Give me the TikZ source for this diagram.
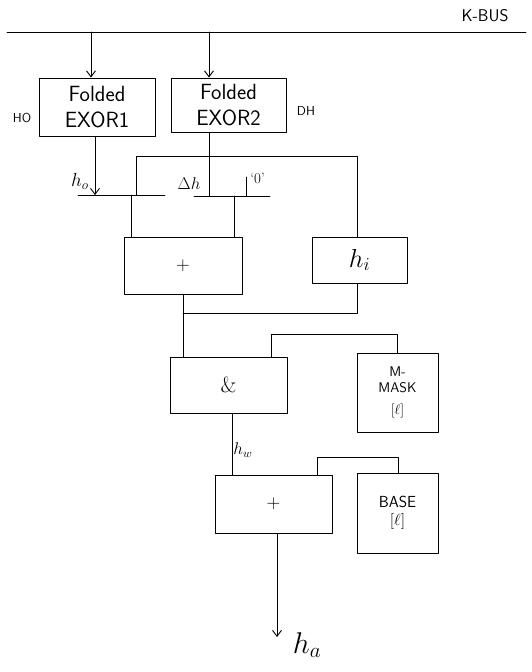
\RequirePackage{fix-cm}
\documentclass[tikz,border=0pt]{standalone}
\usepackage{fontspec}
\usetikzlibrary{arrows.meta}
\tikzset{
  blk/.style={draw, rectangle, inner sep=0pt, align=center},
  lbl/.style={inner sep=1pt},
}
\newcommand{\fsz}[1]{\fontsize{#1}{1.15\dimexpr#1pt\relax}\selectfont}
\begin{document}
\begin{tikzpicture}[x=1pt, y=-1pt, line width=0.9pt, line join=round, line cap=round, >={Straight Barb[length=6pt,width=9pt]}, font=\sffamily]
				\useasboundingbox (0,0) rectangle (531,672);
				% ==========================================
				% bus
				\coordinate (busL) at (7,32);
				\coordinate (busR) at (526,32);
				\draw (busL) -- (busR);
				\node[lbl, font=\sffamily\fsz{17}] (kbus) at (485,16) {K-BUS};
				% ==========================================
				% folded exor blocks
				\node[blk, minimum width=116pt, minimum height=58pt, font=\sffamily\fsz{22}] (exor1) at (97,107) {Folded\\EXOR1};
				\node[blk, minimum width=115pt, minimum height=54pt, font=\sffamily\fsz{22}] (exor2) at (228.5,105) {Folded\\EXOR2};
				\node[lbl, font=\sffamily\fsz{13}] (honame) at (22,118) {HO};
				\node[lbl, font=\sffamily\fsz{13}] (dhname) at (306,111) {DH};
				\draw[->] (busL -| 91,0) -- (exor1.north -| 91,0);
				\draw[->] (busL -| 209,0) -- (exor2.north -| 209,0);
				% ==========================================
				% input selectors
				\coordinate (barAl) at (78,195);
				\coordinate (barAr) at (165,195);
				\coordinate (barBl) at (194,196);
				\coordinate (barBr) at (270,196);
				\draw (barAl) -- (barAr);
				\draw (barBl) -- (barBr);
				\draw[->] (exor1.south -| 95,0) -- (barAl -| 95,0);
				\node[lbl, anchor=east, font=\fsz{19}] (holbl) at (90,181) {$h_o$};
				\draw (exor2.south -| 209,0) -- (barBl -| 209,0);
				\node[lbl, font=\fsz{17}] (dhlbl) at (189,184) {$\Delta h$};
				\draw (246,177) -- (barBl -| 246,0);
				\node[lbl, font=\fsz{15}, right] (zerolbl) at (249,178) {`0'};
				% ==========================================
				% adder and h_i register
				\node[blk, minimum width=118pt, minimum height=57pt, font=\fsz{19}] (add1) at (183,265.5) {$+$};
				\node[blk, minimum width=95pt, minimum height=46pt, font=\fsz{26}] (hi) at (359.5,260) {$h_i$};
				\draw (barAl -| 131,0) -- (add1.north -| 131,0);
				\draw (barBl -| 234,0) -- (add1.north -| 234,0);
				\draw (barAl -| 136,0) -- (136,156) -- (357,156) -- (hi.north -| 357,0);
				\draw (hi.south -| 357,0) -- (357,313) -- (183,313);
				% ==========================================
				% masking
				\node[blk, minimum width=117pt, minimum height=56pt, font=\fsz{22}] (and) at (228.5,385) {\&};
				\node[blk, minimum width=81pt, minimum height=79pt, font=\sffamily\fsz{14}] (mmask) at (397.5,392.5) {M-\\MASK\\[6pt]$[\ell]$};
				\draw (add1.south -| 183,0) -- (and.north -| 183,0);
				\draw (and.north -| 271,0) -- (271,334) -- (397,334) -- (mmask.north -| 397,0);
				% ==========================================
				% base adder
				\node[blk, minimum width=117pt, minimum height=58pt, font=\fsz{19}] (add2) at (273.5,504) {$+$};
				\node[blk, minimum width=81pt, minimum height=80pt, font=\sffamily\fsz{16}] (base) at (397.5,513) {BASE\\$[\ell]$};
				\draw (and.south -| 232,0) -- (add2.north -| 232,0) node[lbl, pos=0.6, right, font=\fsz{17}] (hwlbl) {$h_w$};
				\draw (add2.north -| 317,0) -- (317,457) -- (398,457) -- (base.north -| 398,0);
				\coordinate (haend) at (277,637);
				\draw[->] (add2.south -| haend) -- (haend);
				\node[lbl, font=\fsz{30}] (halbl) at (307,645) {$h_a$};
\end{tikzpicture}
\end{document}
